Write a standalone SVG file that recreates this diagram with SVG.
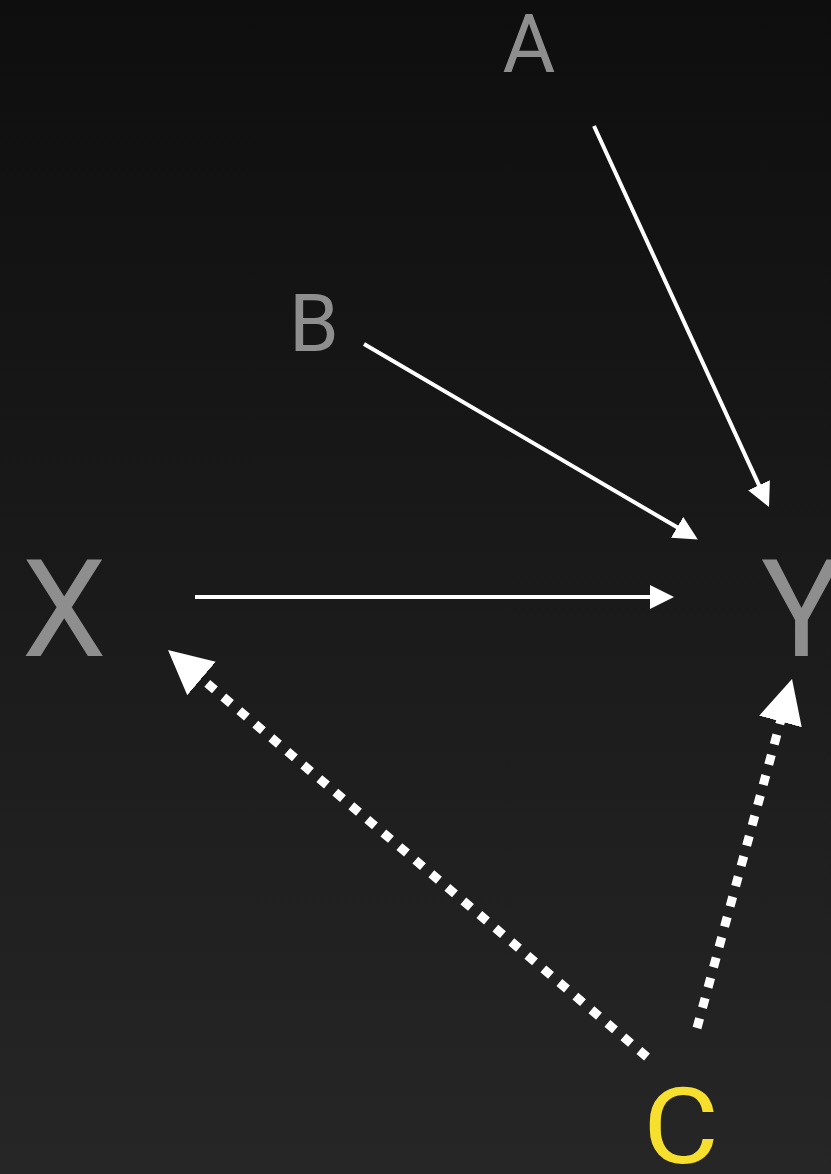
<svg xmlns="http://www.w3.org/2000/svg" width="831" height="1174" viewBox="0 0 831 1174">
<defs>
<linearGradient id="bg" x1="0" y1="0" x2="0" y2="1">
<stop offset="0" stop-color="#0e0e0e"/>
<stop offset="1" stop-color="#262626"/>
</linearGradient>
<marker id="head" markerUnits="userSpaceOnUse" markerWidth="24" markerHeight="24" refX="1" refY="12" orient="auto" viewBox="0 0 24 24">
<path d="M0,0 L24,12 L0,24 z" fill="#ffffff"/>
</marker>
<marker id="bighead" markerUnits="userSpaceOnUse" markerWidth="44" markerHeight="44" refX="2" refY="22" orient="auto" viewBox="0 0 44 44">
<path d="M0,0 L44,22 L0,44 z" fill="#ffffff"/>
</marker>
<style>
.lbl{font-family:Roboto,"Liberation Sans",sans-serif;fill:#8e8e8e}
.solid{stroke:#ffffff;stroke-width:4;fill:none;marker-end:url(#head)}
.dotted{stroke:#ffffff;stroke-width:9;fill:none;stroke-dasharray:10 11;marker-end:url(#bighead)}
</style>
</defs>
<rect x="0" y="0" width="831" height="1174" fill="url(#bg)"/>
<g id="connectors">
<line class="solid" x1="594" y1="126" x2="759.4" y2="486.1"/>
<line class="solid" x1="364" y1="344" x2="678" y2="527.8"/>
<line class="solid" x1="195" y1="597" x2="651" y2="597"/>
<line class="dotted" x1="647" y1="1057" x2="200" y2="677.2"/>
<line class="dotted" x1="697" y1="1028" x2="781" y2="719.5"/>
</g>
<g id="node-A"><text class="lbl" x="529" y="72" font-size="81" text-anchor="middle">A</text></g>
<g id="node-B"><text class="lbl" x="314" y="351" font-size="80" text-anchor="middle">B</text></g>
<g id="node-X"><text class="lbl" x="64" y="656" font-size="135" text-anchor="middle">X</text></g>
<g id="node-Y"><text class="lbl" x="761" y="656" font-size="135">Y</text></g>
<g id="node-C"><text transform="translate(681,1162.5) scale(1.1,1)" x="0" y="0" font-size="106" text-anchor="middle" font-family="Roboto, 'Liberation Sans', sans-serif" fill="#f7df2e">C</text></g>
</svg>
